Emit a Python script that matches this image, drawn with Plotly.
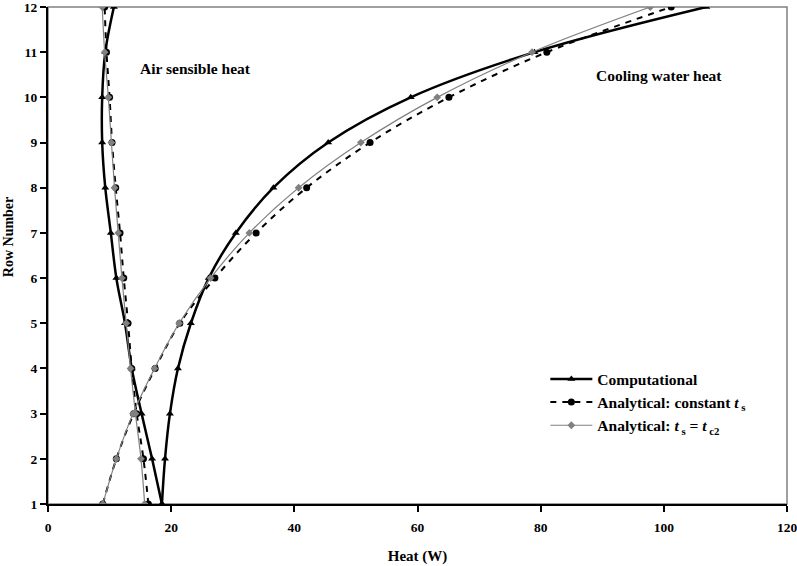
import plotly.graph_objects as go

rows = [1, 2, 3, 4, 5, 6, 7, 8, 9, 10, 11, 12]

# Computational
comp_air = [18.5, 16.9, 15.2, 13.6, 12.5, 11.1, 10.2, 9.3, 8.8, 8.8, 9.3, 10.7]
comp_water = [18.5, 19.0, 19.8, 21.1, 23.2, 26.1, 30.5, 36.6, 45.5, 58.9, 79.0, 106.9]

# Analytical: constant ts
const_air = [16.3, 15.5, 14.4, 13.6, 13.0, 12.3, 11.7, 11.0, 10.4, 10.0, 9.5, 9.2]
const_water = [8.9, 11.1, 13.9, 17.4, 21.4, 27.1, 33.8, 42.0, 52.3, 65.1, 81.0, 101.2]

# Analytical: ts = tc2
tc2_air = [15.7, 15.1, 14.2, 13.4, 12.7, 12.0, 11.4, 10.8, 10.3, 9.8, 9.2, 8.8]
tc2_water = [8.9, 11.1, 13.8, 17.3, 21.3, 26.4, 32.7, 40.7, 50.8, 63.2, 78.6, 97.8]

x_ticks = [0, 20, 40, 60, 80, 100, 120]

FONT = "Liberation Serif"
fig = go.Figure()

def add(xs, name, show, line, marker):
    fig.add_trace(go.Scatter(
        x=xs, y=rows, mode="lines+markers", name=name, showlegend=show,
        legendgroup=name, line=line, marker=marker))

comp_line = dict(color="black", width=2.5, shape="spline", smoothing=1)
comp_marker = dict(symbol="triangle-up", size=7, color="black")
const_line = dict(color="black", width=2, dash="6px,6px", shape="spline", smoothing=1)
const_marker = dict(symbol="circle", size=7, color="black")
tc2_line = dict(color="#808080", width=1.2, shape="spline", smoothing=1)
tc2_marker = dict(symbol="diamond", size=6, color="#808080")

add(comp_air, "<b>Computational</b>", True, comp_line, comp_marker)
add(comp_water, "<b>Computational</b>", False, comp_line, comp_marker)
add(const_air, "<b>Analytical: constant <i>t</i><sub> s</sub></b>", True, const_line, const_marker)
add(const_water, "<b>Analytical: constant <i>t</i><sub> s</sub></b>", False, const_line, const_marker)
add(tc2_air, "<b>Analytical: <i>t</i><sub> s</sub> = <i>t</i><sub> c2</sub></b>", True, tc2_line, tc2_marker)
add(tc2_water, "<b>Analytical: <i>t</i><sub> s</sub> = <i>t</i><sub> c2</sub></b>", False, tc2_line, tc2_marker)

fig.add_shape(type="rect", xref="paper", yref="paper", x0=0, y0=0, x1=1, y1=1,
              line=dict(color="#808080", width=1.5), layer="below")

fig.add_annotation(x=0.199, y=0.877, xref="paper", yref="paper", showarrow=False,
                   xanchor="center", yanchor="middle",
                   text="<b>Air sensible heat</b>", font=dict(size=15.5, color="black", family=FONT))
fig.add_annotation(x=0.827, y=0.863, xref="paper", yref="paper", showarrow=False,
                   xanchor="center", yanchor="middle",
                   text="<b>Cooling water heat</b>", font=dict(size=15.5, color="black", family=FONT))
fig.add_annotation(x=-0.054, y=0.537, xref="paper", yref="paper", showarrow=False,
                   xanchor="center", yanchor="middle", textangle=-90,
                   text="<b>Row Number</b>", font=dict(size=14, color="black", family=FONT))

fig.update_layout(
    width=797, height=566,
    margin=dict(l=48, r=10, t=7, b=62),
    paper_bgcolor="white", plot_bgcolor="white",
    font=dict(family=FONT, size=13.5, color="black"),
    legend=dict(x=0.673, y=0.285, xanchor="left", yanchor="top",
                bgcolor="rgba(0,0,0,0)", font=dict(size=15.5, family=FONT),
                itemwidth=42, tracegroupgap=0),
    xaxis=dict(range=[0, 120], tickvals=x_ticks, ticktext=["<b>%d</b>" % v for v in x_ticks],
               showgrid=False, zeroline=False, showline=True, linecolor="black", linewidth=2,
               ticks="outside", ticklen=6, tickwidth=2, tickcolor="black", automargin=False,
               ticklabeloverflow="allow", ticklabelstandoff=4,
               title=dict(text="<b>Heat (W)</b>", font=dict(size=15), standoff=16)),
    yaxis=dict(range=[1, 12], tickvals=rows, ticktext=["<b>%d</b>" % v for v in rows],
               showgrid=False, zeroline=False, showline=True, linecolor="black", linewidth=2,
               ticks="outside", ticklen=6, tickwidth=2, tickcolor="black", automargin=False,
               ticklabeloverflow="allow"),
)

fig.write_html("out.html", config={"displayModeBar": False},
               post_script="document.body.style.margin='0px';")
